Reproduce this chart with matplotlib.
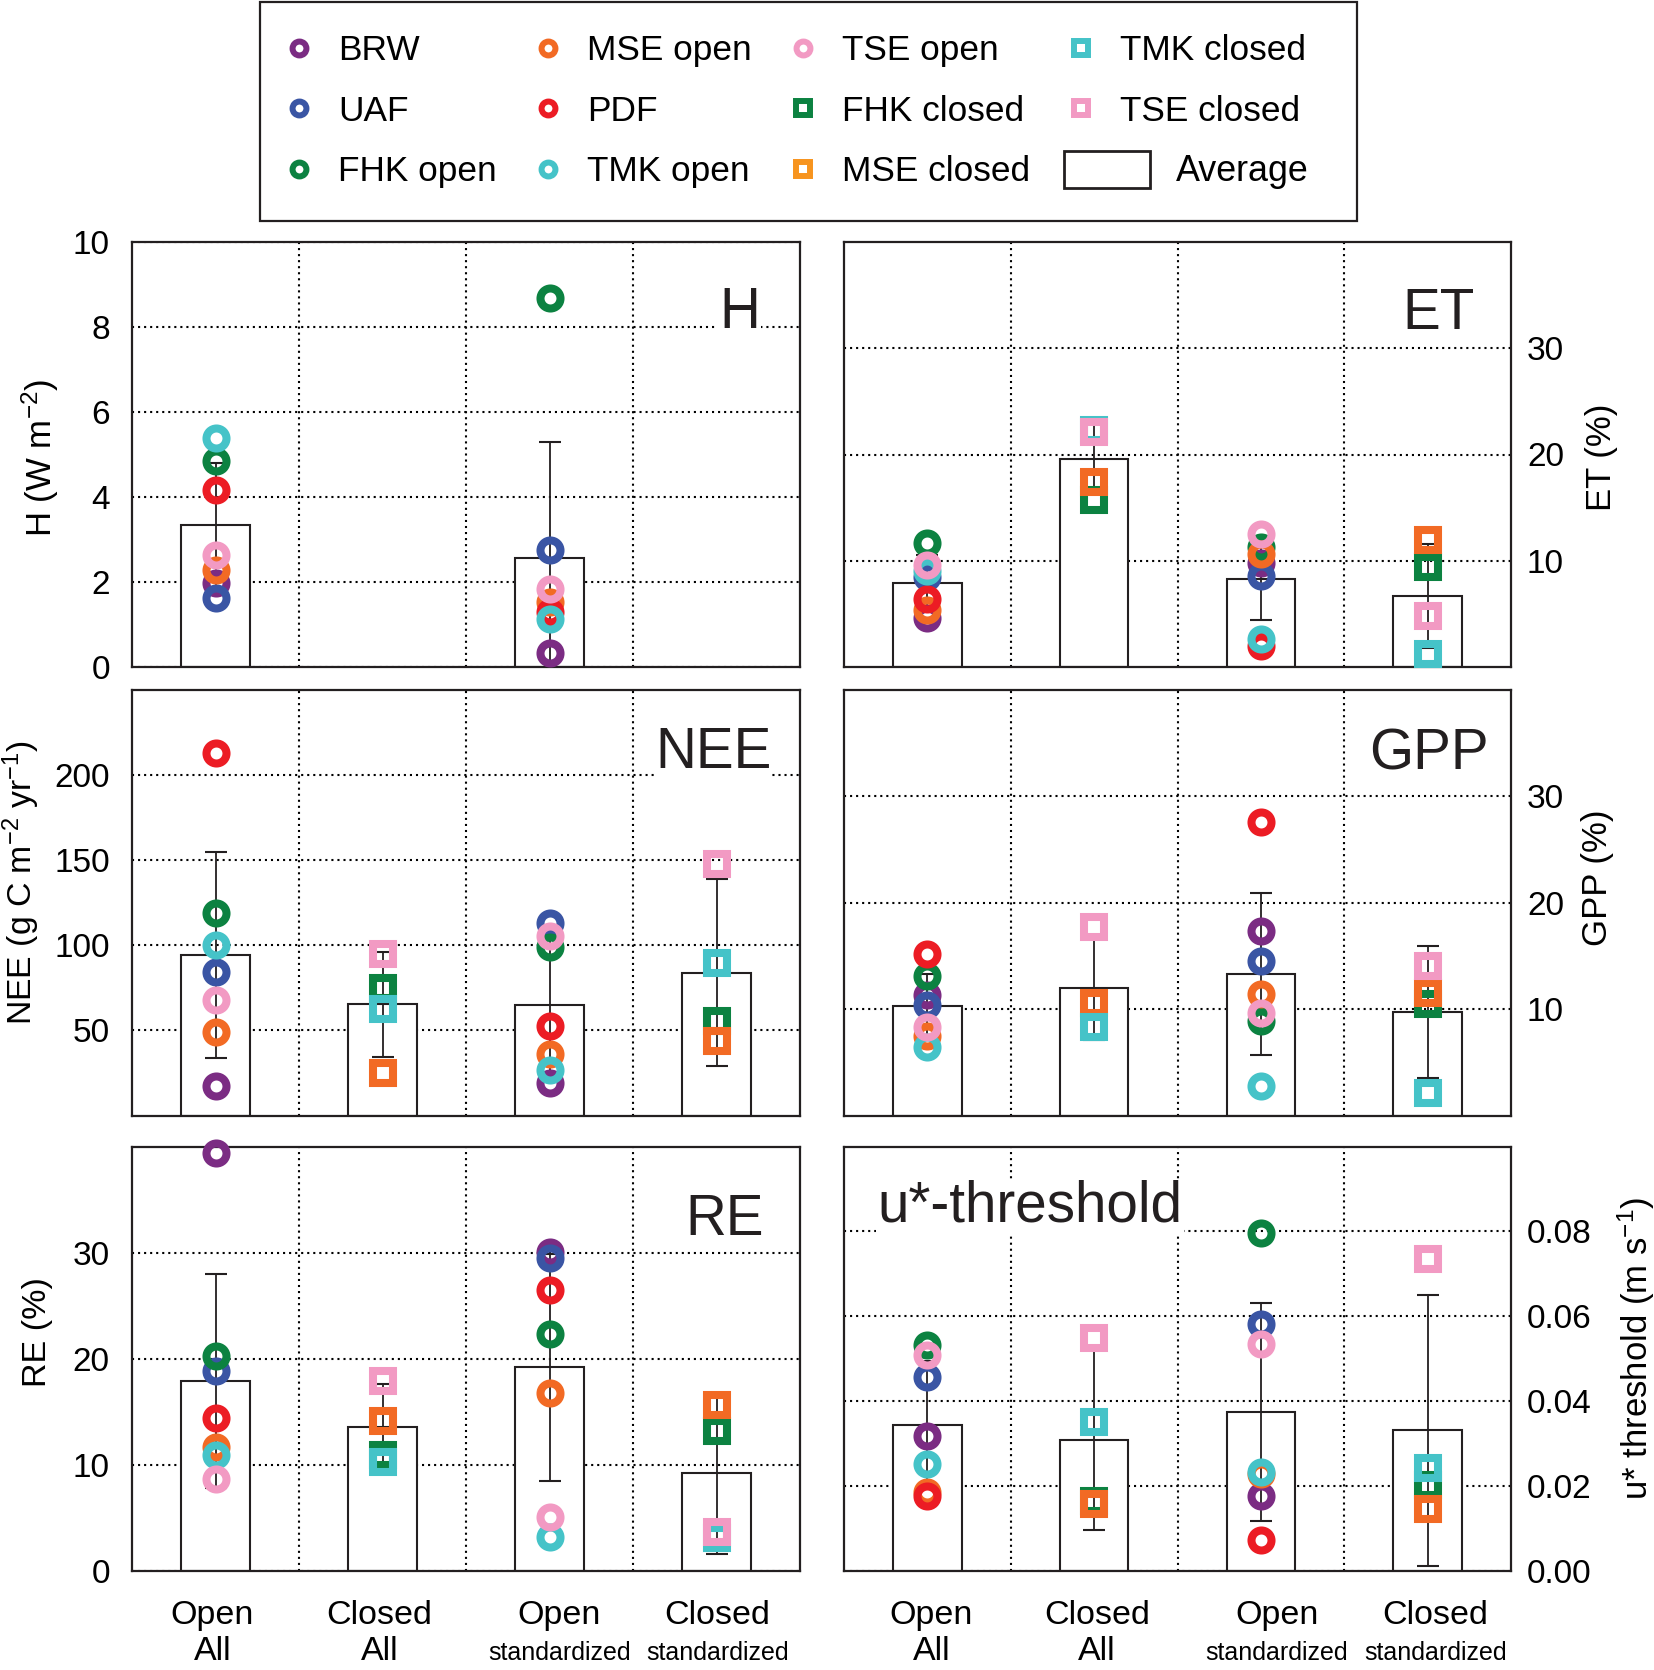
import numpy as np
import matplotlib
matplotlib.use('Agg')
import matplotlib.pyplot as plt
from matplotlib.lines import Line2D
from matplotlib.patches import Patch, Rectangle
from matplotlib.transforms import ScaledTranslation

plt.rcParams['font.family'] = ['Liberation Sans', 'DejaVu Sans']
plt.rcParams['mathtext.fontset'] = 'custom'
plt.rcParams['mathtext.rm'] = 'Liberation Sans'
plt.rcParams['mathtext.it'] = 'Liberation Sans:italic'
plt.rcParams['mathtext.bf'] = 'Liberation Sans:bold'

nan = np.nan

# ---------------- data ----------------
cat_line1 = ['Open', 'Closed', 'Open', 'Closed']
cat_line2 = ['All', 'All', 'standardized', 'standardized']

open_sites = ['BRW', 'UAF', 'FHK open', 'MSE open', 'PDF', 'TMK open', 'TSE open']
closed_sites = ['FHK closed', 'MSE closed', 'TMK closed', 'TSE closed']
open_colors = ['#7B2C83', '#3A55A4', '#0C8241', '#F26A24', '#EC1C24', '#45C3C8', '#F29AC3']
closed_colors = ['#0C8241', '#F26A24', '#45C3C8', '#F29AC3']
closed_legend_colors = ['#0C8241', '#F7941E', '#45C3C8', '#F29AC3']

# H (W m-2)            BRW   UAF   FHK   MSE   PDF   TMK   TSE
H_open_all = [1.98, 1.63, 4.84, 2.29, 4.17, 5.40, 2.64]
H_open_std = [0.33, 2.75, 8.68, 1.53, 1.30, 1.14, 1.84]
#                       FHK  MSE  TMK  TSE
H_closed_all = [nan, nan, nan, nan]
H_closed_std = [nan, nan, nan, nan]
H_mean = [3.33, nan, 2.56, nan]
H_sd = [1.46, nan, 2.73, nan]

# ET (%)
ET_open_all = [4.6, 8.5, 11.7, 5.35, 6.4, 9.0, 9.6]
ET_open_std = [9.8, 8.6, 11.3, 10.6, 2.0, 2.6, 12.5]
ET_closed_all = [15.7, 17.4, 22.35, 22.1]
ET_closed_std = [9.4, 12.0, 1.2, 4.8]
ET_mean = [7.9, 19.6, 8.3, 6.7]
ET_sd = [2.6, 3.3, 3.9, 4.9]

# NEE (g C m-2 yr-1)
NEE_open_all = [17.3, 84.5, 118.8, 49.2, 213.0, 100.4, 68.0]
NEE_open_std = [19.2, 113.3, 99.0, 35.9, 52.5, 27.0, 105.5]
NEE_closed_all = [75.1, 25.1, 62.7, 94.7]
NEE_closed_std = [55.5, 43.7, 89.8, 148.0]
NEE_mean = [94.3, 65.3, 64.9, 83.9]
NEE_sd = [60.8, 31.0, 40.1, 55.0]

# GPP (%)
GPP_open_all = [11.3, 10.4, 13.1, 7.5, 15.2, 6.4, 8.3]
GPP_open_std = [17.3, 14.5, 8.9, 11.4, 27.6, 2.8, 9.6]
GPP_closed_all = [nan, 10.6, 8.3, 17.7]
GPP_closed_std = [10.5, 11.5, 2.1, 14.1]
GPP_mean = [10.3, 12.0, 13.3, 9.7]
GPP_sd = [3.0, 4.9, 7.6, 6.2]

# RE (%)
RE_open_all = [39.4, 18.8, 20.3, 11.7, 14.4, 10.9, 8.7]
RE_open_std = [30.1, 29.5, 22.3, 16.8, 26.5, 3.2, 5.1]
RE_closed_all = [10.9, 14.1, 10.3, 17.9]
RE_closed_std = [13.2, 15.6, 3.1, 3.7]
RE_mean = [17.9, 13.6, 19.2, 9.2]
RE_sd = [10.1, 4.0, 10.7, 7.6]

# u*-threshold (m s-1)
US_open_all = [0.0318, 0.0456, 0.0532, 0.0187, 0.0177, 0.0252, 0.0508]
US_open_std = [0.0177, 0.0581, 0.0797, 0.0228, 0.0073, 0.0234, 0.0535]
US_closed_all = [0.0165, 0.0157, 0.0350, 0.0548]
US_closed_std = [0.0203, 0.0147, 0.0242, 0.0734]
US_mean = [0.0343, 0.0309, 0.0374, 0.0331]
US_sd = [0.0151, 0.0213, 0.0257, 0.0320]

# ---------------- figure ----------------
W, Hpx = 1654, 1670
fig = plt.figure(figsize=(W / 100, Hpx / 100), dpi=100)

ink = '#231F20'
L, WL = 132 / W, 668 / W
R, WR = 844 / W, 667 / W
rows = [(1 - 667 / Hpx, 425 / Hpx), (1 - 1115.5 / Hpx, 425.5 / Hpx), (1 - 1571 / Hpx, 424.5 / Hpx)]

panels = [
    dict(pos=(L, rows[0][0], WL, rows[0][1]), side='left',
         oa=H_open_all, os=H_open_std, ca=H_closed_all, cs=H_closed_std, mean=H_mean, sd=H_sd,
         ylim=(0, 10), ticks=[0, 2, 4, 6, 8, 10], fmt='{:.0f}',
         ylabel='H (W m$^{-2}$)', ylfs=25, ylc=(-0.1377, 0.492),
         title='H', tpos=(0.940, 0.797), tha='right', bottom=False, xoff=None),
    dict(pos=(R, rows[0][0], WR, rows[0][1]), side='right',
         oa=ET_open_all, os=ET_open_std, ca=ET_closed_all, cs=ET_closed_std, mean=ET_mean, sd=ET_sd,
         ylim=(0, 40), ticks=[10, 20, 30], fmt='{:.0f}',
         ylabel='ET (%)', ylfs=25, ylc=(1.136, 0.493),
         title='ET', tpos=(0.945, 0.795), tha='right', bottom=False, xoff=None),
    dict(pos=(L, rows[1][0], WL, rows[1][1]), side='left',
         oa=NEE_open_all, os=NEE_open_std, ca=NEE_closed_all, cs=NEE_closed_std, mean=NEE_mean, sd=NEE_sd,
         ylim=(0, 250), ticks=[50, 100, 150, 200], fmt='{:.0f}',
         ylabel='NEE (g C m$^{-2}$ yr$^{-1}$)', ylfs=24.3, ylc=(-0.166, 0.547),
         title='NEE', tpos=(0.957, 0.816), tha='right', bottom=False, xoff=None),
    dict(pos=(R, rows[1][0], WR, rows[1][1]), side='right',
         oa=GPP_open_all, os=GPP_open_std, ca=GPP_closed_all, cs=GPP_closed_std, mean=GPP_mean, sd=GPP_sd,
         ylim=(0, 40), ticks=[10, 20, 30], fmt='{:.0f}',
         ylabel='GPP (%)', ylfs=25, ylc=(1.129, 0.558),
         title='GPP', tpos=(0.966, 0.812), tha='right', bottom=False, xoff=None),
    dict(pos=(L, rows[2][0], WL, rows[2][1]), side='left',
         oa=RE_open_all, os=RE_open_std, ca=RE_closed_all, cs=RE_closed_std, mean=RE_mean, sd=RE_sd,
         ylim=(0, 40), ticks=[0, 10, 20, 30], fmt='{:.0f}',
         ylabel='RE (%)', ylfs=24.6, ylc=(-0.142, 0.563),
         title='RE', tpos=(0.946, 0.791), tha='right', bottom=True, xoff=[-3, -3, 10, 1]),
    dict(pos=(R, rows[2][0], WR, rows[2][1]), side='right',
         oa=US_open_all, os=US_open_std, ca=US_closed_all, cs=US_closed_std, mean=US_mean, sd=US_sd,
         ylim=(0, 0.1), ticks=[0.0, 0.02, 0.04, 0.06, 0.08], fmt='{:.2f}',
         ylabel='u* threshold (m s$^{-1}$)', ylfs=25, ylc=(1.188, 0.525),
         title='u*-threshold', tpos=(0.050, 0.823), tha='left', bottom=True, xoff=[4, 3, 16, 8]),
]

xs = np.arange(1, 5)
dot = (0, (1, 1.9))
MS, MEW = 14.4, 5.8

for p in panels:
    ax = fig.add_axes(p['pos'])
    ax.set_xlim(0.5, 4.5)
    ax.set_ylim(*p['ylim'])
    ax.set_axisbelow(True)
    for s in ax.spines.values():
        s.set_linewidth(1.6)
        s.set_color(ink)

    ax.bar(xs, p['mean'], width=0.41, color='white', edgecolor=ink, linewidth=1.5, zorder=2)
    ax.errorbar(xs, p['mean'], yerr=p['sd'], fmt='none', ecolor=ink, elinewidth=1.3,
                capsize=8, capthick=1.5, zorder=3)

    for k, c in enumerate(open_colors):
        ax.plot([1, 3], [p['oa'][k], p['os'][k]], ls='none', marker='o', ms=MS, mew=MEW,
                mfc='none', mec=c, zorder=4, clip_on=False)
    for k, c in enumerate(closed_colors):
        ax.plot([2, 4], [p['ca'][k], p['cs'][k]], ls='none', marker='s', ms=MS, mew=MEW,
                mfc='none', mec=c, zorder=4, clip_on=False)

    ax.set_xticks(xs)
    ax.set_xticks([1.5, 2.5, 3.5], minor=True)
    ax.set_yticks(p['ticks'])
    ax.set_yticklabels([p['fmt'].format(t) for t in p['ticks']])
    ax.grid(True, axis='y', which='major', ls=dot, lw=1.5, color='black')
    ax.grid(True, axis='x', which='minor', ls=dot, lw=1.5, color='black')

    if p['side'] == 'right':
        ax.yaxis.tick_right()
        ax.yaxis.set_label_position('right')
        ax.tick_params(axis='y', which='both', length=0, pad=11.5, labelsize=24)
    else:
        ax.tick_params(axis='y', which='both', length=0, pad=16, labelsize=24)
    ax.set_ylabel(p['ylabel'], fontsize=p['ylfs'], va='center')
    ax.yaxis.set_label_coords(*p['ylc'])

    if p['bottom']:
        ax.set_xticklabels(cat_line1)
        ax.tick_params(axis='x', which='both', length=0, pad=21, labelsize=24.5)
        for lab, dx in zip(ax.get_xticklabels(), p['xoff']):
            lab.set_transform(lab.get_transform() + ScaledTranslation(dx / 100, 0, fig.dpi_scale_trans))
        for xi, t, dx in zip(xs, cat_line2, p['xoff']):
            tr = ax.get_xaxis_transform() + ScaledTranslation(dx / 100, 0, fig.dpi_scale_trans)
            if t == 'All':
                ax.text(xi, -0.2095, t, transform=tr, ha='center', va='baseline', fontsize=24.5)
            else:
                ax.text(xi, -0.2085, t, transform=tr, ha='center', va='baseline', fontsize=18)
    else:
        ax.tick_params(axis='x', which='both', length=0, labelbottom=False)

    ax.text(p['tpos'][0], p['tpos'][1], p['title'], transform=ax.transAxes, ha=p['tha'],
            va='baseline', fontsize=40.8, color=ink, zorder=3.5,
            bbox=dict(facecolor='white', edgecolor='none', pad=1))

# ---------------- legend ----------------
handles = [Line2D([], [], ls='none', marker='o', ms=10, mew=4.3, mfc='none', mec=c)
           for c in open_colors]
handles += [Line2D([], [], ls='none', marker='s', ms=10.5, mew=4.3, mfc='none', mec=c)
            for c in closed_legend_colors]
labels = open_sites + closed_sites
fig.legend(handles, labels, ncol=4, loc='upper left', bbox_to_anchor=(278 / W, 1 - 34 / Hpx),
           frameon=False, fontsize=25.4, handlelength=1.2, handletextpad=0.5,
           columnspacing=0.86, labelspacing=0.78, borderpad=0, borderaxespad=0)
fig.legend([Patch(facecolor='white', edgecolor=ink, linewidth=2)], ['Average'], loc='upper left',
           bbox_to_anchor=(1064 / W, 1 - 151 / Hpx), frameon=False, fontsize=25.8,
           handlelength=2.4, handleheight=1.2, handletextpad=0.72, borderpad=0, borderaxespad=0)
fig.add_artist(Rectangle((260 / W, 1 - 221 / Hpx), 1097 / W, 219 / Hpx, transform=fig.transFigure,
                         fill=False, edgecolor=ink, linewidth=1.6))

fig.savefig('out.png', dpi=100)
